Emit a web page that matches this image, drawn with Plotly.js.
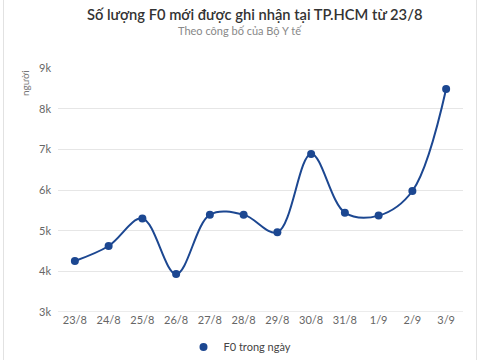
<!DOCTYPE html>
<html>
<head>
<meta charset="utf-8">
<script src="https://cdn.plot.ly/plotly-3.0.1.min.js"></script>
<style>
html,body{margin:0;padding:0;background:#fff;}
#frame{position:absolute;left:3px;top:0;width:474px;height:360px;border-left:1px solid #e2e2e2;border-right:1px solid #e2e2e2;box-sizing:border-box;pointer-events:none;z-index:5;}
#chart{width:480px;height:360px;}
</style>
</head>
<body>
<div id="frame"></div>
<div id="chart"></div>
<script>
const categories = ["23/8","24/8","25/8","26/8","27/8","28/8","29/8","30/8","31/8","1/9","2/9","3/9"];
const f0Values = [4254, 4623, 5300, 3933, 5394, 5394, 4958, 6886, 5443, 5370, 5975, 8483];
const yTickVals = [3000,4000,5000,6000,7000,8000,9000];
const yTickText = ["3k","4k","5k","6k","7k","8k","9k"];
const seriesName = "F0 trong ngày";
const titleText = "Số lượng F0 mới được ghi nhận tại TP.HCM từ 23/8";
const subtitleText = "Theo công bố của Bộ Y tế";
const yUnit = "người";
const lineColor = "#1c4791";
const fontFam = "Lato, 'Open Sans', sans-serif";

const W = 480, ML = 58, MR = 17;
const centerX = (W / 2 - ML) / (W - ML - MR);

const traces = [
  {
    x: categories, y: f0Values, type: "scatter", mode: "lines+markers",
    line: {shape: "spline", smoothing: 1, color: lineColor, width: 2},
    marker: {color: lineColor, size: 8},
    showlegend: false, hoverinfo: "x+y"
  },
  {
    x: [null], y: [null], type: "scatter", mode: "markers", name: seriesName,
    marker: {color: lineColor, size: 8}, showlegend: true
  }
];

const layout = {
  width: 480, height: 360,
  margin: {l: ML, r: MR, t: 68, b: 48, autoexpand: false},
  paper_bgcolor: "#fff", plot_bgcolor: "#fff",
  font: {family: fontFam, color: "#666", size: 11},
  xaxis: {
    type: "category", range: [-0.5, 11.5],
    showgrid: false, zeroline: false, showline: false,
    ticks: "", tickfont: {size: 11, color: "#666"}, fixedrange: true
  },
  yaxis: {
    range: [3000, 9000], tickvals: yTickVals, ticktext: yTickText,
    showgrid: true, gridcolor: "#e6e6e6", gridwidth: 1,
    zeroline: false, showline: false, ticks: "", ticklabelstandoff: 6,
    tickfont: {size: 11, color: "#666"}, fixedrange: true
  },
  shapes: [
    {type: "line", xref: "paper", yref: "y", x0: 0, x1: 1, y0: 3000, y1: 3000,
     line: {color: "#d8d8d8", width: 1}}
  ],
  annotations: [
    {text: titleText, xref: "paper", yref: "paper",
     x: centerX, xanchor: "center", xshift: 14, y: 1, yshift: 54, yanchor: "middle", showarrow: false,
     font: {family: fontFam, size: 14.7, color: "#333", weight: 600}},
    {text: subtitleText, xref: "paper", yref: "paper",
     x: centerX, xanchor: "center", y: 1, yshift: 38, yanchor: "middle", showarrow: false,
     font: {family: fontFam, size: 11, color: "#888"}},
    {text: yUnit, xref: "paper", yref: "paper", x: 0, xshift: -33, xanchor: "center",
     y: 1, yanchor: "top", textangle: -90, showarrow: false,
     font: {family: fontFam, size: 10, color: "#777"}}
  ],
  legend: {
    orientation: "h", xref: "container", x: 0.5, xanchor: "center",
    y: -0.143, yanchor: "middle",
    font: {family: fontFam, size: 11, color: "#444"},
    itemwidth: 30
  }
};

Plotly.newPlot("chart", traces, layout, {displayModeBar: false, staticPlot: true});
</script>
</body>
</html>
